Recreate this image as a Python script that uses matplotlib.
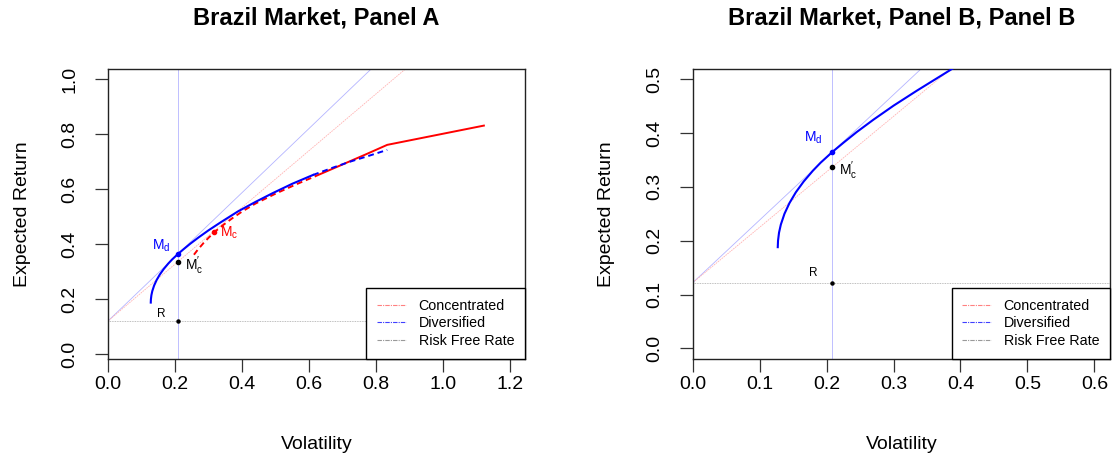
import numpy as np
import matplotlib
matplotlib.use("Agg")
import matplotlib.pyplot as plt
from matplotlib.lines import Line2D

plt.rcParams["font.family"] = ["Liberation Sans", "DejaVu Sans"]

# ---------------------------------------------------------------------------
# Brazil market: efficient frontiers (volatility, expected return)
# ---------------------------------------------------------------------------
RF = 0.122                      # risk free rate
SIG_M = 0.2086                  # volatility of the diversified tangency portfolio
MU_MD = 0.365                   # M_d  (diversified tangency)
MU_MC1 = 0.337                  # M_c' (concentrated CML at sigma of M_d)
SIG_MC, MU_MC = 0.3167, 0.4436  # M_c  (concentrated tangency)

# diversified frontier, solid part
sig_div = [0.127, 0.1274, 0.1289, 0.1316, 0.137, 0.1445, 0.154, 0.1657, 0.1794,
           0.191, 0.2086, 0.225, 0.245, 0.270, 0.300, 0.335, 0.387, 0.440,
           0.490, 0.550, 0.612]
mu_div = [0.188, 0.200, 0.215, 0.230, 0.250, 0.270, 0.290, 0.310, 0.330,
          0.345, 0.365, 0.382, 0.402, 0.425, 0.451, 0.479, 0.519, 0.554,
          0.585, 0.620, 0.652]
# diversified frontier, dashed tail
sig_div_tail = [0.612, 0.670, 0.722, 0.780, 0.8335]
mu_div_tail = [0.652, 0.678, 0.700, 0.722, 0.743]

# concentrated frontier, dashed part
sig_con = [0.256, 0.268, 0.285, 0.300, 0.3167, 0.340, 0.370, 0.400, 0.440,
           0.500, 0.560, 0.620]
mu_con = [0.362, 0.381, 0.405, 0.424, 0.4436, 0.467, 0.494, 0.519, 0.548,
          0.584, 0.617, 0.648]
# concentrated frontier, solid part
sig_con_tail = [0.620, 0.700, 0.770, 0.8335, 1.1223]
mu_con_tail = [0.648, 0.690, 0.727, 0.7613, 0.8313]

BLUE, RED = "#0000FF", "#FF0000"
LBLUE, LRED, GREY = "#B4B4FF", "#FFB4B4", "#A8A8A8"
FS = 14

fig = plt.figure(figsize=(11.15, 4.65), dpi=100)
axA = fig.add_axes([0.0971, 0.2286, 0.3737, 0.6224])
axB = fig.add_axes([0.6213, 0.2286, 0.3743, 0.6224])


def common(ax, title, xlim, ylim, xticks, yticks):
    ax.set_xlim(*xlim)
    ax.set_ylim(*ylim)
    ax.set_xticks(xticks)
    ax.set_yticks(yticks)
    ax.set_xticklabels([f"{v:.1f}" for v in xticks])
    ax.set_yticklabels([f"{v:.1f}" for v in yticks], rotation=90, va="center")
    ax.tick_params(axis="both", direction="out", length=9.4, width=0.9,
                   labelsize=FS, color="#333333")
    ax.tick_params(axis="x", pad=3)
    ax.tick_params(axis="y", pad=12)
    for s in ax.spines.values():
        s.set_linewidth(1.0)
        s.set_color("#222222")
    ax.text(0.5, 1.176, title, transform=ax.transAxes, ha="center",
            va="center", fontsize=17, fontweight="bold")
    ax.set_xlabel("Volatility", fontsize=FS)
    ax.xaxis.set_label_coords(0.5, -0.297)
    ax.xaxis.label.set_va("center")
    ax.set_ylabel("Expected Return", fontsize=FS)
    ax.yaxis.set_label_coords(-0.2064, 0.5)
    ax.yaxis.label.set_va("center")

    # reference lines
    ax.axhline(RF, color=GREY, lw=0.6, ls=(0, (1, 1)), zorder=1)
    ax.axvline(SIG_M, color=LBLUE, lw=0.6, zorder=1)
    ax.axline((0, RF), (SIG_M, MU_MD), color=LBLUE, lw=0.6, zorder=1)
    ax.axline((0, RF), (SIG_M, MU_MC1), color=LRED, lw=0.6,
              ls=(0, (2, 1)), zorder=1)

    handles = [
        Line2D([], [], color="#FF8080", lw=0.8, ls=(0, (4, 1, 1, 1))),
        Line2D([], [], color="#4040FF", lw=0.8, ls=(0, (4, 1, 1, 1))),
        Line2D([], [], color="#999999", lw=0.8, ls=(0, (4, 1, 1, 1))),
    ]
    leg = ax.legend(handles, ["Concentrated", "Diversified", "Risk Free Rate"],
                    loc="lower right", borderaxespad=0, fancybox=False,
                    edgecolor="black", framealpha=1, fontsize=10.3,
                    handlelength=2.0, handletextpad=0.9, labelspacing=0.25,
                    borderpad=0.75)
    leg.get_frame().set_linewidth(1.0)
    leg.set_zorder(10)


def markers(ax, dx_md, dy_md, dx_r, dy_r):
    ax.plot([SIG_M], [MU_MD], "o", color=BLUE, ms=3, zorder=6)
    ax.plot([SIG_M], [MU_MC1], "o", color="black", ms=3, zorder=6)
    ax.plot([SIG_M], [RF], "o", color="black", ms=2.2, zorder=6)
    ax.annotate(r"$\mathregular{M_d}$", (SIG_M, MU_MD), xytext=(dx_md, dy_md),
                textcoords="offset pixels", color=BLUE, fontsize=10,
                ha="center", va="center")
    ax.annotate(r"$\mathregular{M_c^{\prime}}$", (SIG_M, MU_MC1),
                xytext=(16, -4), textcoords="offset pixels", color="black",
                fontsize=10, ha="center", va="center")
    ax.annotate("R", (SIG_M, RF), xytext=(dx_r, dy_r),
                textcoords="offset pixels", color="black", fontsize=8.5,
                ha="center", va="center")


# ---- Panel A --------------------------------------------------------------
common(axA, "Brazil Market, Panel A", (0, 1.245), (-0.016, 1.036),
       [0.0, 0.2, 0.4, 0.6, 0.8, 1.0, 1.2], [0.0, 0.2, 0.4, 0.6, 0.8, 1.0])
axA.plot(sig_con, mu_con, color=RED, lw=1.4, ls=(0, (3, 2)), zorder=3)
axA.plot(sig_con_tail, mu_con_tail, color=RED, lw=1.4, zorder=3)
axA.plot(sig_div_tail, mu_div_tail, color=BLUE, lw=1.4, ls=(0, (3, 2)), zorder=4)
axA.plot(sig_div, mu_div, color=BLUE, lw=1.5, zorder=5)
axA.plot([SIG_MC], [MU_MC], "o", color=RED, ms=3, zorder=6)
axA.annotate(r"$\mathregular{M_c}$", (SIG_MC, MU_MC), xytext=(15, -1),
             textcoords="offset pixels", color=RED, fontsize=10,
             ha="center", va="center")
markers(axA, -17, 8, -17, 7)

# ---- Panel B --------------------------------------------------------------
common(axB, "Brazil Market, Panel B, Panel B", (0, 0.6235), (-0.0193, 0.5186),
       [0.0, 0.1, 0.2, 0.3, 0.4, 0.5, 0.6], [0.0, 0.1, 0.2, 0.3, 0.4, 0.5])
axB.plot(sig_div, mu_div, color=BLUE, lw=1.5, zorder=5)
markers(axB, -19, 14, -19, 10)

fig.savefig("out.png", dpi=100)
